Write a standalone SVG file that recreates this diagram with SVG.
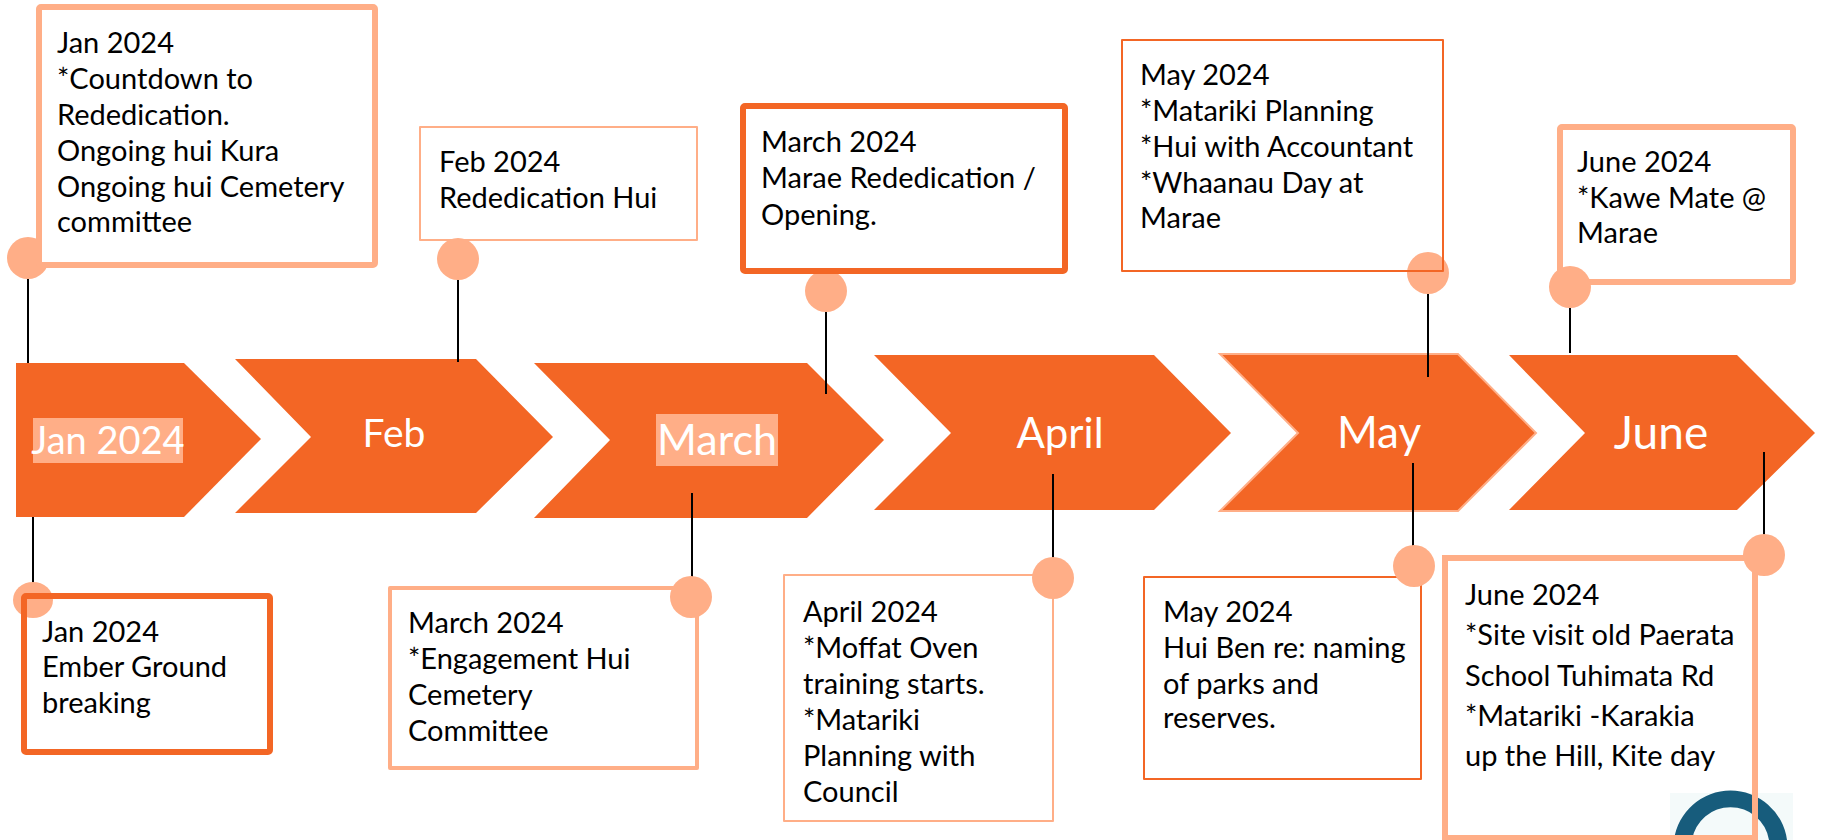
<svg xmlns="http://www.w3.org/2000/svg" width="1822" height="840" viewBox="0 0 1822 840">
<style>
.chev{fill:#F36625}
.lbl{fill:#FFFFFF;font-family:Lato,"Liberation Sans",sans-serif;text-anchor:middle}
.hl{fill:#FFAE87}
.box{fill:#FFFFFF;stroke-linejoin:round}
.pk{stroke:#FFAE87}
.og{stroke:#F36625}
.dot{fill:#FFAE87}
.txt{font-family:Lato,"Liberation Sans",sans-serif;font-size:29px;fill:#000000}
.conn line{stroke:#000000;stroke-width:2}
</style>
<rect width="1822" height="840" fill="#FFFFFF"/>
<g id="timeline">
  <g id="chev-jan"><polygon class="chev" points="16,363 184,363 261,439 184,517 16,517"/><rect class="hl" x="33" y="418" width="150" height="45"/><text class="lbl" x="108" y="454" font-size="38">Jan 2024</text></g>
  <g id="chev-feb"><polygon class="chev" points="235,359 476,359 553,437 476,513 235,513 311,437"/><text class="lbl" x="394" y="447" font-size="39">Feb</text></g>
  <g id="chev-mar"><polygon class="chev" points="534,363 807,363 884,440 807,518 534,518 610,440"/><rect class="hl" x="656" y="414" width="122" height="52"/><text class="lbl" x="717" y="455" font-size="43">March</text></g>
  <g id="chev-apr"><polygon class="chev" points="874,355 1154,355 1231,433 1154,510 874,510 951,433"/><text class="lbl" x="1060" y="448" font-size="42">April</text></g>
  <g id="chev-may"><polygon class="chev" points="1220,354 1458,354 1536,433 1458,511 1220,511 1298,433" stroke="#FFAE87" stroke-width="2"/><text class="lbl" x="1379" y="448" font-size="44">May</text></g>
  <g id="chev-jun"><polygon class="chev" points="1509,355 1737,355 1815,433 1737,510 1509,510 1585,433"/><text class="lbl" x="1661" y="449" font-size="46">June</text></g>
</g>
<g id="connectors" class="conn">
  <line x1="28" y1="258" x2="28" y2="363"/>
  <line x1="33" y1="517" x2="33" y2="600"/>
  <line x1="458" y1="259" x2="458" y2="362"/>
  <line x1="826" y1="291" x2="826" y2="394"/>
  <line x1="692" y1="493" x2="692" y2="597"/>
  <line x1="1053" y1="474" x2="1053" y2="578"/>
  <line x1="1428" y1="273" x2="1428" y2="377"/>
  <line x1="1413" y1="463" x2="1413" y2="566"/>
  <line x1="1570" y1="287" x2="1570" y2="353"/>
  <line x1="1764" y1="452" x2="1764" y2="555"/>
</g>
<g id="ev-jan-top">
  <circle class="dot" cx="28" cy="258" r="21"/>
  <rect class="box pk" x="39" y="7" width="336" height="258" stroke-width="6" rx="2"/>
  <text class="txt"><tspan x="57" y="53">Jan 2024</tspan><tspan x="57" y="89">*Countdown to</tspan><tspan x="57" y="125">Rededication.</tspan><tspan x="57" y="161">Ongoing hui Kura</tspan><tspan x="57" y="197">Ongoing hui Cemetery</tspan><tspan x="57" y="232">committee</tspan></text>
</g>
<g id="ev-feb">
  <rect class="box pk" x="420" y="127" width="277" height="113" stroke-width="2"/>
  <circle class="dot" cx="458" cy="259" r="21"/>
  <text class="txt"><tspan x="439" y="172">Feb 2024</tspan><tspan x="439" y="208">Rededication Hui</tspan></text>
</g>
<g id="ev-mar-top">
  <circle class="dot" cx="826" cy="291" r="21"/>
  <rect class="box og" x="743" y="106" width="322" height="165" stroke-width="6" rx="2"/>
  <text class="txt"><tspan x="761" y="152">March 2024</tspan><tspan x="761" y="188">Marae Rededication /</tspan><tspan x="761" y="225">Opening.</tspan></text>
</g>
<g id="ev-may-top">
  <circle class="dot" cx="1428" cy="273" r="21"/>
  <rect class="box og" x="1122" y="40" width="321" height="231" stroke-width="2" fill-opacity="0"/>
  <text class="txt"><tspan x="1140" y="85">May 2024</tspan><tspan x="1140" y="121">*Matariki Planning</tspan><tspan x="1140" y="157">*Hui with Accountant</tspan><tspan x="1140" y="193">*Whaanau Day at</tspan><tspan x="1140" y="228">Marae</tspan></text>
</g>
<g id="ev-jun-top">
  <rect class="box pk" x="1560" y="127" width="233" height="155" stroke-width="6" rx="2"/>
  <circle class="dot" cx="1570" cy="287" r="21"/>
  <text class="txt"><tspan x="1577" y="172">June 2024</tspan><tspan x="1577" y="208">*Kawe Mate @</tspan><tspan x="1577" y="243">Marae</tspan></text>
</g>
<g id="ev-jan-bot">
  <ellipse class="dot" cx="33" cy="600" rx="20" ry="18"/>
  <rect class="box og" x="24" y="596" width="246" height="156" stroke-width="6" rx="2" fill-opacity="0"/>
  <text class="txt"><tspan x="42" y="642">Jan 2024</tspan><tspan x="42" y="677">Ember Ground</tspan><tspan x="42" y="713">breaking</tspan></text>
</g>
<g id="ev-mar-bot">
  <rect class="box pk" x="390" y="588" width="307" height="180" stroke-width="4"/>
  <circle class="dot" cx="691" cy="597" r="21"/>
  <text class="txt"><tspan x="408" y="633">March 2024</tspan><tspan x="408" y="669">*Engagement Hui</tspan><tspan x="408" y="705">Cemetery</tspan><tspan x="408" y="741">Committee</tspan></text>
</g>
<g id="ev-apr-bot">
  <rect class="box pk" x="784" y="575" width="269" height="246" stroke-width="2"/>
  <circle class="dot" cx="1053" cy="578" r="21"/>
  <text class="txt"><tspan x="803" y="622">April 2024</tspan><tspan x="803" y="658">*Moffat Oven</tspan><tspan x="803" y="694">training starts.</tspan><tspan x="803" y="730">*Matariki</tspan><tspan x="803" y="766">Planning with</tspan><tspan x="803" y="802">Council</tspan></text>
</g>
<g id="ev-may-bot">
  <rect class="box og" x="1144" y="577" width="277" height="202" stroke-width="2"/>
  <circle class="dot" cx="1414" cy="566" r="21"/>
  <text class="txt"><tspan x="1163" y="622">May 2024</tspan><tspan x="1163" y="658">Hui Ben re: naming</tspan><tspan x="1163" y="694">of parks and</tspan><tspan x="1163" y="728">reserves.</tspan></text>
</g>
<g id="logo">
  <rect x="1670" y="793" width="123" height="47" fill="#F4FAFA"/>
  <path d="M1674 840 A57 57 0 0 1 1787 840 L1769 840 A39 39 0 0 0 1692 840 Z" fill="#175C7C"/>
</g>
<g id="ev-jun-bot">
  <rect x="1445" y="558" width="310" height="280" stroke-width="6" style="fill:none;stroke:#FFAE87"/>
  <circle class="dot" cx="1764" cy="555" r="21"/>
  <text class="txt"><tspan x="1465" y="605">June 2024</tspan><tspan x="1465" y="645">*Site visit old Paerata</tspan><tspan x="1465" y="686">School Tuhimata Rd</tspan><tspan x="1465" y="726">*Matariki -Karakia</tspan><tspan x="1465" y="766">up the Hill, Kite day</tspan></text>
</g>
</svg>
